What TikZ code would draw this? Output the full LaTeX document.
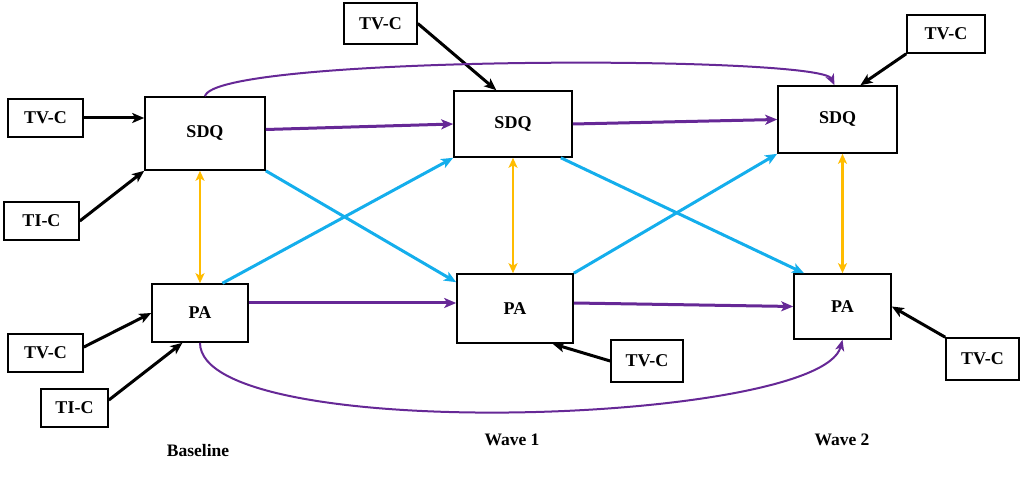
\documentclass[tikz,border=0pt]{standalone}
\usepackage{fontspec}
\setmainfont{Liberation Serif}
\usetikzlibrary{arrows.meta,calc}
\definecolor{pur}{RGB}{102,40,150}
\definecolor{sky}{RGB}{20,174,236}
\definecolor{gold}{RGB}{255,188,0}
\tikzset{
  box/.style={draw=black,line width=1.6pt,fill=white,font=\bfseries\fontsize{18}{20}\selectfont,inner sep=0pt},
  blk/.style={line width=3pt,-{Stealth[length=12pt,width=10pt,inset=3pt]}},
  purp/.style={draw=pur,line width=3pt,-{Stealth[length=12pt,width=10pt,inset=3pt]}},
  purc/.style={draw=pur,line width=2pt,-{Stealth[length=11pt,width=9pt,inset=3pt]}},
  blu/.style={draw=sky,line width=3pt,-{Stealth[length=12pt,width=10pt,inset=3pt]}},
  org/.style={draw=gold,line width=2.6pt,{Stealth[length=10pt,width=9pt,inset=2.5pt]}-{Stealth[length=10pt,width=9pt,inset=2.5pt]}},
  wlabel/.style={font=\bfseries\fontsize{17.5}{20}\selectfont,inner sep=0pt}
}
\begin{document}
\begin{tikzpicture}[x=1pt,y=-1pt]
\useasboundingbox (0,0) rectangle (1021,489);
% nodes
\node[box,minimum width=75pt,minimum height=38pt] (tvc1) at (45.5,118) {TV-C};
\node[box,minimum width=120pt,minimum height=73pt] (sdq0) at (205,133.5) {SDQ};
\node[box,minimum width=75pt,minimum height=38pt] (tic1) at (41.5,221) {TI-C};
\node[box,minimum width=96pt,minimum height=58pt] (pa0) at (200,313) {PA};
\node[box,minimum width=75pt,minimum height=38pt] (tvc2) at (45.5,353) {TV-C};
\node[box,minimum width=67pt,minimum height=38pt] (tic2) at (74.5,408) {TI-C};
\node[box,minimum width=73pt,minimum height=41pt] (tvc3) at (380.5,23.5) {TV-C};
\node[box,minimum width=118pt,minimum height=66pt] (sdq1) at (513,124) {SDQ};
\node[box,minimum width=78pt,minimum height=38pt] (tvc4) at (946,34) {TV-C};
\node[box,minimum width=119pt,minimum height=67pt] (sdq2) at (837.5,119.5) {SDQ};
\node[box,minimum width=116pt,minimum height=69pt] (pa1) at (515,308.5) {PA};
\node[box,minimum width=72pt,minimum height=42pt] (tvc5) at (647,361) {TV-C};
\node[box,minimum width=97pt,minimum height=65pt] (pa2) at (842.5,306.5) {PA};
\node[box,minimum width=73pt,minimum height=42pt] (tvc6) at (982.5,359) {TV-C};
% wave labels
\node[wlabel] (lb0) at (198,451) {Baseline};
\node[wlabel] (lb1) at (512,440) {Wave 1};
\node[wlabel] (lb2) at (842,440) {Wave 2};
% black covariate arrows
\draw[blk] (tvc1.east) -- (sdq0.west |- tvc1.east);
\draw[blk] (tic1.east) -- (sdq0.south west);
\draw[blk] ($(tvc2.north east)!0.35!(tvc2.south east)$) -- (pa0.west);
\draw[blk] ($(tic2.north east)!0.3!(tic2.south east)$) -- ($(pa0.south west)!0.32!(pa0.south east)$);
\draw[blk] (tvc3.east) -- ($(sdq1.north west)!0.36!(sdq1.north east)$);
\draw[blk] (tvc4.south west) -- ($(sdq2.north west)!0.69!(sdq2.north east)$);
\draw[blk] (tvc5.west) -- ($(pa1.south west)!0.82!(pa1.south east)$);
\draw[blk] (tvc6.north west) -- (pa2.east);
% purple autoregressive
\draw[purp] ([yshift=4pt]sdq0.east) -- (sdq1.west);
\draw[purp] (sdq1.east) -- (sdq2.west);
\draw[purp] ([yshift=10pt]pa0.east) -- ([yshift=5.5pt]pa1.west);
\draw[purp] ([yshift=5.5pt]pa1.east) -- (pa2.west);
\draw[purc] (sdq0.north) .. controls (215,55) and (820,55) .. ([xshift=-3pt]sdq2.north);
\draw[purc] (pa0.south) .. controls (200,445) and (820,425) .. (pa2.south);
% blue cross-lagged
\draw[blu] (sdq0.south east) -- ($(pa1.north west)+(0,9)$);
\draw[blu] ($(pa0.north west)!0.73!(pa0.north east)$) -- (sdq1.south west);
\draw[blu] ($(sdq1.south west)!0.9!(sdq1.south east)$) -- ($(pa2.north west)!0.11!(pa2.north east)$);
\draw[blu] (pa1.north east) -- (sdq2.south west);
% orange covariances
\draw[org] (pa0.north |- sdq0.south) -- (pa0.north);
\draw[org] (sdq1.south) -- (sdq1.south |- pa1.north);
\draw[org] (pa2.north |- sdq2.south) -- (pa2.north);
\end{tikzpicture}
\end{document}
